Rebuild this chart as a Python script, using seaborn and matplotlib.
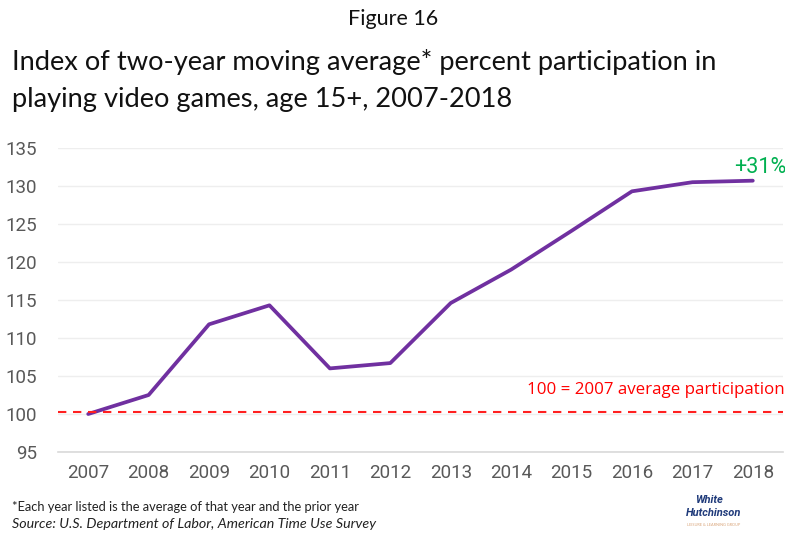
import matplotlib
matplotlib.use("Agg")
import matplotlib.pyplot as plt
import seaborn as sns
import pandas as pd

# Data
years = ["2007", "2008", "2009", "2010", "2011", "2012",
         "2013", "2014", "2015", "2016", "2017", "2018"]
index_values = [100.0, 102.5, 111.8, 114.3, 106.0, 106.7,
                114.6, 119.0, 124.1, 129.3, 130.5, 130.7]
baseline_value = 100.3
y_ticks = [95, 100, 105, 110, 115, 120, 125, 130, 135]
change_label = "+31%"
baseline_label = "100 = 2007 average participation"

df = pd.DataFrame({"year": years, "index": index_values})

sns.set_theme(style="white")
plt.rcParams["font.family"] = ["Lato", "DejaVu Sans"]

fig = plt.figure(figsize=(7.85, 5.38), dpi=100)
ax = fig.add_axes([58 / 785, 86 / 538, 725 / 785, 304 / 538])

sns.lineplot(data=df, x="year", y="index", ax=ax, color="#7030A0",
             linewidth=2.7, sort=False)

ax.axhline(baseline_value, color="#FF2020", linewidth=1.5,
           linestyle=(0, (4, 3.2)), zorder=3)

ax.set_xlim(-0.5, len(years) - 0.5)
ax.set_ylim(y_ticks[0], y_ticks[-1])
ax.set_yticks(y_ticks)
ax.grid(axis="y", color="#EEEEEE", linewidth=1.0)
ax.grid(axis="x", visible=False)
for side in ["top", "right", "left"]:
    ax.spines[side].set_visible(False)
ax.spines["bottom"].set_color("#D9D9D9")
ax.spines["bottom"].set_linewidth(1.2)
ax.set_xlabel("")
ax.set_ylabel("")
ax.tick_params(axis="both", length=0, labelsize=13.5, labelcolor="#595959")
ax.tick_params(axis="x", pad=9)
ax.tick_params(axis="y", pad=15)
for lbl in ax.get_xticklabels() + ax.get_yticklabels():
    lbl.set_family(["Roboto", "DejaVu Sans"])

# Annotations inside the plot
ax.text(len(years) - 0.45, 132.4, change_label, color="#00B050",
        fontsize=15.5, ha="right", va="center", family=["Roboto", "DejaVu Sans"])
ax.text(len(years) - 0.47, 103.2, baseline_label, color="#FF0000",
        fontsize=12.2, ha="right", va="center", family=["Open Sans", "DejaVu Sans"])

# Titles
fig.text(393 / 785, 1 - 19 / 538, "Figure 16", ha="center", va="center",
         fontsize=15.5, color="#111111")
fig.text(12 / 785, 1 - 62 / 538,
         "Index of two-year moving average* percent participation in",
         ha="left", va="center", fontsize=19.6, color="#111111")
fig.text(12 / 785, 1 - 99 / 538,
         "playing video games, age 15+, 2007-2018",
         ha="left", va="center", fontsize=19.6, color="#111111")

# Footnotes
fig.text(12 / 785, 1 - 507 / 538,
         "*Each year listed is the average of that year and the prior year",
         ha="left", va="center", fontsize=9.3, color="#222222")
fig.text(12 / 785, 1 - 524 / 538,
         "Source: U.S. Department of Labor, American Time Use Survey",
         ha="left", va="center", fontsize=10.3, color="#222222", style="italic")

# Logo wordmark
fig.text(709 / 785, 1 - 500 / 538, "White", ha="center", va="center",
         fontsize=8, color="#1F3A7A", style="italic", weight="bold",
         family=["Roboto", "DejaVu Sans"])
fig.text(714 / 785, 1 - 513 / 538, "Hutchinson", ha="center", va="center",
         fontsize=8, color="#1F3A7A", style="italic", weight="bold",
         family=["Roboto", "DejaVu Sans"])
fig.text(714 / 785, 1 - 525 / 538, "LEISURE & LEARNING GROUP", ha="center",
         va="center", fontsize=2.8, color="#D9A57A")

fig.savefig("out.png", dpi=100)
